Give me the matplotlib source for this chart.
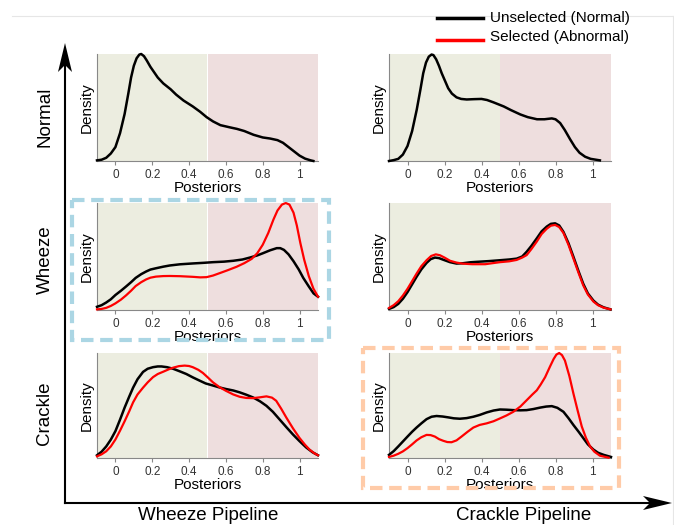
import matplotlib
matplotlib.use("Agg")
import matplotlib.pyplot as plt
from matplotlib.lines import Line2D
from matplotlib.patches import Rectangle

plt.rcParams['font.family'] = ['Liberation Sans', 'DejaVu Sans']

# ---- data (x = posterior, y = relative density) ----
# Normal row
nw_x = [-0.1, -0.075, -0.05, -0.025, 0.0, 0.025, 0.05, 0.07, 0.085, 0.1, 0.115, 0.13, 0.14,
        0.155, 0.17, 0.19, 0.21, 0.23, 0.26, 0.3, 0.33, 0.37, 0.42, 0.46, 0.495, 0.53, 0.57,
        0.62, 0.66, 0.7, 0.75, 0.8, 0.84, 0.88, 0.91, 0.94, 0.97, 1.0, 1.03, 1.06, 1.075]
nw_black = [0.006, 0.012, 0.03, 0.07, 0.13, 0.26, 0.44, 0.63, 0.78, 0.89, 0.96, 0.995, 1.0,
            0.98, 0.94, 0.88, 0.83, 0.78, 0.725, 0.67, 0.62, 0.565, 0.51, 0.46, 0.41, 0.37, 0.335,
            0.315, 0.30, 0.28, 0.245, 0.22, 0.21, 0.195, 0.17, 0.13, 0.09, 0.05, 0.022, 0.006, 0.0]

nc_x = [-0.1, -0.075, -0.05, -0.025, 0.0, 0.025, 0.05, 0.07, 0.085, 0.1, 0.115, 0.13, 0.14,
        0.155, 0.17, 0.185, 0.2, 0.22, 0.24, 0.265, 0.29, 0.32, 0.36, 0.4, 0.43, 0.465, 0.52,
        0.56, 0.61, 0.65, 0.7, 0.74, 0.78, 0.8, 0.825, 0.85, 0.88, 0.905, 0.93, 0.96, 0.99, 1.04]
nc_black = [0.0, 0.008, 0.02, 0.06, 0.14, 0.28, 0.48, 0.67, 0.82, 0.92, 0.975, 0.995, 0.99,
            0.95, 0.89, 0.82, 0.76, 0.68, 0.63, 0.595, 0.58, 0.575, 0.578, 0.58, 0.57, 0.548, 0.51,
            0.475, 0.435, 0.41, 0.39, 0.39, 0.398, 0.39, 0.355, 0.29, 0.20, 0.13, 0.077, 0.04, 0.02, 0.006]

# Wheeze row
ww_x = [-0.1, -0.075, -0.05, -0.025, 0.0, 0.03, 0.058, 0.085, 0.11, 0.14, 0.167, 0.19, 0.22,
        0.26, 0.295, 0.35, 0.42, 0.48, 0.53, 0.59, 0.64, 0.69, 0.73, 0.77, 0.80, 0.84, 0.876,
        0.895, 0.915, 0.94, 0.967, 0.995, 1.02, 1.05, 1.076, 1.1]
ww_black = [0.03, 0.045, 0.07, 0.1, 0.14, 0.18, 0.22, 0.26, 0.30, 0.335, 0.36, 0.378, 0.39,
            0.405, 0.416, 0.427, 0.435, 0.441, 0.447, 0.452, 0.46, 0.472, 0.49, 0.51, 0.53, 0.558, 0.578,
            0.578, 0.562, 0.52, 0.456, 0.38, 0.30, 0.22, 0.155, 0.124]
ww_red_x = [-0.1, -0.075, -0.05, -0.025, 0.0, 0.03, 0.058, 0.085, 0.11, 0.14, 0.167, 0.19, 0.22,
            0.26, 0.295, 0.35, 0.42, 0.46, 0.495, 0.53, 0.567, 0.61, 0.658, 0.7, 0.74, 0.77, 0.80,
            0.83, 0.858, 0.88, 0.904, 0.925, 0.945, 0.967, 0.985, 1.004, 1.025, 1.05, 1.075, 1.1]
ww_red = [0.006, 0.01, 0.02, 0.038, 0.062, 0.097, 0.137, 0.18, 0.224, 0.26, 0.286, 0.302, 0.312,
          0.317, 0.318, 0.316, 0.31, 0.305, 0.307, 0.322, 0.345, 0.372, 0.404, 0.438, 0.478, 0.53, 0.61,
          0.72, 0.845, 0.93, 0.985, 1.0, 0.985, 0.91, 0.79, 0.627, 0.47, 0.317, 0.2, 0.124]

wc_x = [-0.1, -0.075, -0.05, -0.025, 0.0, 0.025, 0.049, 0.075, 0.103, 0.125, 0.148, 0.17, 0.193,
        0.23, 0.265, 0.3, 0.34, 0.374, 0.44, 0.5, 0.55, 0.59, 0.62, 0.644, 0.67, 0.699, 0.725,
        0.753, 0.775, 0.798, 0.82, 0.843, 0.87, 0.897, 0.925, 0.95, 0.975, 1.005, 1.03, 1.06, 1.097]
wc_black = [0.01, 0.027, 0.057, 0.105, 0.167, 0.24, 0.31, 0.38, 0.44, 0.475, 0.49, 0.485, 0.47,
            0.447, 0.434, 0.437, 0.446, 0.45, 0.457, 0.465, 0.472, 0.48, 0.5, 0.544, 0.6, 0.67, 0.735,
            0.78, 0.805, 0.81, 0.79, 0.73, 0.625, 0.497, 0.36, 0.245, 0.155, 0.088, 0.05, 0.025, 0.006]
wc_red_x = [-0.1, -0.075, -0.05, -0.025, 0.0, 0.025, 0.049, 0.075, 0.103, 0.128, 0.153, 0.175, 0.2,
            0.23, 0.265, 0.3, 0.35, 0.42, 0.47, 0.5, 0.55, 0.59, 0.62, 0.644, 0.67, 0.699, 0.725,
            0.753, 0.775, 0.798, 0.82, 0.843, 0.87, 0.897, 0.925, 0.95, 0.975, 1.005, 1.03, 1.06, 1.097]
wc_red = [0.019, 0.045, 0.082, 0.135, 0.198, 0.27, 0.34, 0.41, 0.465, 0.505, 0.52, 0.512, 0.49,
          0.46, 0.443, 0.433, 0.428, 0.428, 0.44, 0.447, 0.455, 0.468, 0.49, 0.513, 0.57, 0.64, 0.71,
          0.76, 0.788, 0.795, 0.775, 0.72, 0.61, 0.48, 0.345, 0.23, 0.145, 0.079, 0.045, 0.022, 0.006]

# Crackle row
cw_x = [-0.1, -0.075, -0.05, -0.025, 0.0, 0.025, 0.05, 0.075, 0.096, 0.12, 0.15, 0.175, 0.204,
        0.23, 0.25, 0.28, 0.313, 0.35, 0.385, 0.42, 0.457, 0.49, 0.53, 0.565, 0.60, 0.64, 0.675,
        0.71, 0.747, 0.785, 0.82, 0.855, 0.89, 0.93, 0.964, 1.0, 1.036, 1.07, 1.1]
cw_black = [0.026, 0.06, 0.11, 0.175, 0.256, 0.365, 0.48, 0.585, 0.67, 0.75, 0.82, 0.85, 0.865,
            0.872, 0.872, 0.865, 0.85, 0.825, 0.80, 0.768, 0.737, 0.71, 0.69, 0.672, 0.657, 0.643, 0.625,
            0.603, 0.577, 0.54, 0.497, 0.44, 0.37, 0.29, 0.224, 0.16, 0.10, 0.055, 0.026]
cw_red_x = [-0.1, -0.075, -0.05, -0.025, 0.0, 0.025, 0.05, 0.075, 0.096, 0.12, 0.15, 0.175, 0.204,
            0.23, 0.26, 0.29, 0.313, 0.345, 0.376, 0.4, 0.42, 0.45, 0.475, 0.5, 0.53, 0.565, 0.60,
            0.64, 0.675, 0.71, 0.747, 0.785, 0.82, 0.85, 0.873, 0.9, 0.928, 0.965, 1.0, 1.03, 1.054,
            1.08, 1.1]
cw_red = [0.016, 0.035, 0.064, 0.11, 0.176, 0.26, 0.35, 0.445, 0.53, 0.605, 0.67, 0.72, 0.77,
          0.8, 0.822, 0.845, 0.86, 0.875, 0.88, 0.876, 0.865, 0.84, 0.81, 0.77, 0.72, 0.675, 0.64,
          0.605, 0.583, 0.572, 0.57, 0.578, 0.587, 0.575, 0.545, 0.47, 0.385, 0.28, 0.19, 0.125, 0.08,
          0.045, 0.026]

cc_x = [-0.1, -0.075, -0.05, -0.025, 0.0, 0.025, 0.049, 0.075, 0.103, 0.13, 0.157, 0.19, 0.22,
        0.25, 0.283, 0.32, 0.356, 0.39, 0.428, 0.465, 0.5, 0.535, 0.572, 0.61, 0.644, 0.68, 0.717,
        0.75, 0.78, 0.81, 0.843, 0.87, 0.897, 0.925, 0.95, 0.975, 1.005, 1.03, 1.06, 1.1]
cc_black = [0.03, 0.065, 0.11, 0.157, 0.204, 0.25, 0.29, 0.33, 0.37, 0.393, 0.40, 0.395, 0.387,
            0.378, 0.374, 0.38, 0.393, 0.41, 0.434, 0.452, 0.462, 0.46, 0.456, 0.454, 0.456, 0.466, 0.48,
            0.49, 0.494, 0.478, 0.44, 0.38, 0.314, 0.25, 0.19, 0.13, 0.08, 0.05, 0.03, 0.01]
cc_red_x = [-0.1, -0.075, -0.05, -0.025, 0.0, 0.025, 0.049, 0.075, 0.103, 0.125, 0.148, 0.17, 0.193,
            0.215, 0.238, 0.265, 0.292, 0.325, 0.356, 0.39, 0.428, 0.465, 0.5, 0.535, 0.572, 0.61,
            0.644, 0.675, 0.699, 0.72, 0.744, 0.77, 0.79, 0.805, 0.82, 0.835, 0.851, 0.875, 0.897,
            0.92, 0.942, 0.965, 0.987, 1.01, 1.04, 1.087]
cc_red = [0.01, 0.022, 0.04, 0.063, 0.094, 0.13, 0.167, 0.198, 0.22, 0.218, 0.204, 0.18, 0.164,
          0.152, 0.15, 0.168, 0.204, 0.25, 0.29, 0.315, 0.33, 0.35, 0.377, 0.405, 0.44, 0.49,
          0.55, 0.605, 0.645, 0.7, 0.77, 0.87, 0.943, 0.985, 1.0, 0.98, 0.928, 0.78, 0.613,
          0.45, 0.3, 0.19, 0.11, 0.06, 0.022, 0.003]

row_names = ["Normal", "Wheeze", "Crackle"]
col_names = ["Wheeze Pipeline", "Crackle Pipeline"]
tick_vals = [0, 0.2, 0.4, 0.6, 0.8, 1]
tick_text = ["0", "0.2", "0.4", "0.6", "0.8", "1"]

W, H = 674, 525
fig = plt.figure(figsize=(W / 100, H / 100), dpi=100)


def px_rect(x0, y0, x1, y1):
    return [x0 / W, 1 - y1 / H, (x1 - x0) / W, (y1 - y0) / H]


col_px = [(97, 318), (389, 611)]
row_px = [(54, 161), (203, 310), (353, 458)]

panels = [
    [(nw_x, nw_black, None, None), (nc_x, nc_black, None, None)],
    [(ww_x, ww_black, ww_red_x, ww_red), (wc_x, wc_black, wc_red_x, wc_red)],
    [(cw_x, cw_black, cw_red_x, cw_red), (cc_x, cc_black, cc_red_x, cc_red)],
]

# faint frame at the top and right (behind everything)
fig.add_artist(Line2D([12 / W, 673 / W], [1 - 16 / H, 1 - 16 / H], color='#E6E6E6', lw=0.8, zorder=0))
fig.add_artist(Line2D([673 / W, 673 / W], [1 - 16 / H, 0], color='#E6E6E6', lw=0.8, zorder=0))

for r in range(3):
    for c in range(2):
        ax = fig.add_axes(px_rect(col_px[c][0], row_px[r][0], col_px[c][1], row_px[r][1]))
        ax.axvspan(-0.1, 0.5, color='#ECEDE0', lw=0)
        ax.axvspan(0.5, 1.1, color='#EEDEDE', lw=0)
        bx, by, rx, ry = panels[r][c]
        ax.plot(bx, by, color='black', lw=1.8, clip_on=False, zorder=3, solid_joinstyle='round')
        if rx is not None:
            ax.plot(rx, ry, color='#FF0000', lw=1.6, clip_on=False, zorder=4, solid_joinstyle='round')
        ax.set_xlim(-0.1, 1.1)
        ax.set_ylim(0, 1.0)
        ax.set_xticks(tick_vals)
        ax.set_xticklabels(tick_text)
        ax.set_yticks([])
        for s in ['top', 'right']:
            ax.spines[s].set_visible(False)
        for s in ['left', 'bottom']:
            ax.spines[s].set_color('#888888')
            ax.spines[s].set_linewidth(0.8)
        ax.tick_params(axis='x', length=3, width=0.8, color='#888888',
                       labelsize=8.5, labelcolor='#333333', pad=3)
        ax.set_xlabel("Posteriors", fontsize=11, labelpad=0)
        ax.set_ylabel("Density", fontsize=11, labelpad=2)
        ax.set_facecolor('none')

# overlay in pixel coordinates for arrows, boxes, labels and legend
ax_over = fig.add_axes([0, 0, 1, 1])
ax_over.set_xlim(0, W)
ax_over.set_ylim(H, 0)
ax_over.axis('off')
ax_over.plot([65, 65], [503, 55], color='black', lw=1.5)
ax_over.plot([65, 655], [503, 503], color='black', lw=1.5)
ax_over.fill([58, 65, 72, 65], [72, 43, 72, 65], color='black', lw=0)
ax_over.fill([643, 672, 643, 650], [496, 503, 510, 503], color='black', lw=0)

# dashed highlight boxes
ax_over.add_patch(Rectangle((72, 200), 257, 140, fill=False, ec='#ABD6E4', lw=3,
                            linestyle=(0, (3, 1.6))))
ax_over.add_patch(Rectangle((363, 348), 256, 140, fill=False, ec='#FFCBA8', lw=3,
                            linestyle=(0, (3, 1.6))))

# row and column labels
row_y = [117, 260, 413]
for name, y in zip(row_names, row_y):
    ax_over.text(45, y, name, rotation=90, ha='center', va='center', fontsize=13.5)
ax_over.text(208, 516, col_names[0], ha='center', va='center', fontsize=13.5)
ax_over.text(524, 515, col_names[1], ha='center', va='center', fontsize=13.5)

# legend
ax_over.plot([437, 483], [18, 18], color='black', lw=2.5)
ax_over.plot([437, 483], [40, 40], color='#FF0000', lw=2.5)
ax_over.text(490, 18, "Unselected (Normal)", ha='left', va='center', fontsize=11)
ax_over.text(490, 37, "Selected (Abnormal)", ha='left', va='center', fontsize=11)

fig.savefig("out.png", dpi=100)
